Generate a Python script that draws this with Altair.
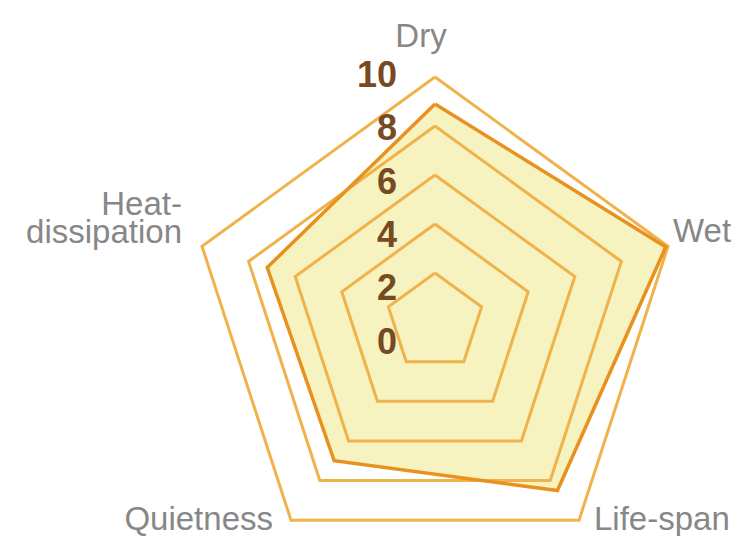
import math
import altair as alt
import pandas as pd

# ---- data ----
categories = ["Dry", "Wet", "Life-span", "Quietness", "Heat-dissipation"]
values = [8.9, 9.9, 8.5, 7.0, 7.2]
grid_levels = [2, 4, 6, 8, 10]
tick_values = [0, 2, 4, 6, 8, 10]

# ---- styles ----
FILL = "#f7f3c1"
GRID = "#f0b24a"
LINE = "#e8911f"
GREY = "#878787"
BROWN = "#774a22"
FONT = "Liberation Sans"

N = len(categories)


def polar(r, i):
    a = math.radians(90 - 360.0 / N * i)
    return r * math.cos(a), r * math.sin(a)


# data polygon (closed)
rows = []
for k in range(N + 1):
    i = k % N
    x, y = polar(values[i], i)
    rows.append({"x": x, "y": y, "o": k})
data_df = pd.DataFrame(rows)

# grid pentagons (closed)
grows = []
for lv in grid_levels:
    for k in range(N + 1):
        i = k % N
        x, y = polar(lv, i)
        grows.append({"x": x, "y": y, "o": k, "lv": lv})
grid_df = pd.DataFrame(grows)

# tick labels along the top spoke (spread as in the reference)
tick_df = pd.DataFrame({
    "x": [-1.55] * len(tick_values),
    "y": [1.088 * v - 0.84 for v in tick_values],
    "t": [str(v) for v in tick_values],
})

# category labels anchored at the outer vertex
lab_rows = []
for i, c in enumerate(categories):
    x, y = polar(grid_levels[-1], i)
    lab_rows.append({"x": x, "y": y, "t": c.replace("Heat-", "Heat-\n")})
lab_df = pd.DataFrame(lab_rows)

# scale domains so that 1 unit = 24.5 px and the centre sits where it does in the reference
K = 24.5
W, H = 724, 528
CX, CY = 427, 314
xdom = [-CX / K, (W - CX) / K]
ydom = [(CY - H) / K, CY / K]

X = alt.X("x:Q", scale=alt.Scale(domain=xdom, nice=False, zero=False), axis=None)
Y = alt.Y("y:Q", scale=alt.Scale(domain=ydom, nice=False, zero=False), axis=None)

fill = alt.Chart(data_df).mark_line(filled=True, fill=FILL, strokeWidth=0).encode(
    x=X, y=Y, order=alt.Order("o:Q")
)

grid = alt.Chart(grid_df).mark_line(color=GRID, strokeWidth=3, strokeJoin="miter").encode(
    x=X, y=Y, order=alt.Order("o:Q"), detail="lv:N"
)

line = alt.Chart(data_df).mark_line(color=LINE, strokeWidth=3.5, strokeJoin="miter").encode(
    x=X, y=Y, order=alt.Order("o:Q")
)

ticks = alt.Chart(tick_df).mark_text(
    align="right", baseline="middle", font=FONT, fontSize=36, fontWeight="bold", color=BROWN
).encode(x=X, y=Y, text="t:N")

label_style = [
    dict(align="center", dx=-14, dy=-30),
    dict(align="left", dx=5, dy=-4),
    dict(align="left", dx=15, dy=10),
    dict(align="right", dx=-18, dy=10),
    dict(align="right", dx=-20, dy=-31),
]

labels = []
for i, st in enumerate(label_style):
    labels.append(
        alt.Chart(lab_df.iloc[[i]]).mark_text(
            baseline="alphabetic", font=FONT, fontSize=33, color=GREY,
            lineBreak="\n", lineHeight=28, **st
        ).encode(x=X, y=Y, text="t:N")
    )

chart = alt.layer(fill, grid, line, ticks, *labels).properties(
    width=W, height=H, padding=0, autosize=alt.AutoSizeParams(type="none"),
    background="white",
).configure_view(stroke=None)

chart.save("out.html", embed_options={"renderer": "svg", "actions": False})
